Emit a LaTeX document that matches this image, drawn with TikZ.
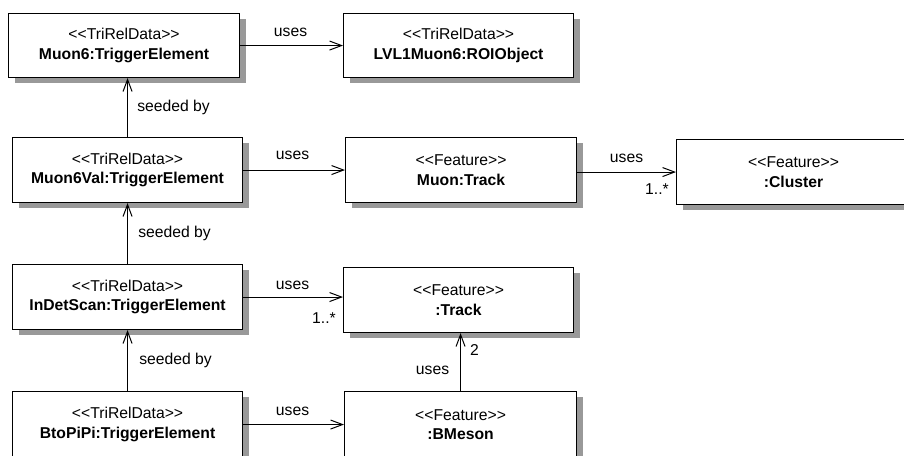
\documentclass[tikz,border=0pt]{standalone}
\usepackage{fontspec}
\setmainfont{Liberation Sans}
\usetikzlibrary{arrows.meta,shadows}
\newcommand\st[1]{<\kern0pt<#1>\kern0pt>}
\begin{document}
\begin{tikzpicture}[x=1pt,y=-1pt,
  umlbox/.style={draw=black, line width=1.1pt, fill=white, inner sep=0pt,
    align=center, anchor=north west, font=\fontsize{15.7}{19.5}\selectfont,
    drop shadow={shadow xshift=6pt, shadow yshift=-5pt, fill=black!40, opacity=1}},
  assoc/.style={line width=1pt, -{Straight Barb[length=12pt,width=9pt,line width=1pt]}},
  lbl/.style={font=\fontsize{15.7}{19.5}\selectfont, inner sep=0pt}]
\useasboundingbox (0,0) rectangle (904,455);
\clip (0,0) rectangle (904,455);
\node[umlbox, minimum width=231pt, minimum height=64pt] (A) at (8,13) {\st{TriRelData}\\\textbf{Muon6:TriggerElement}};
\node[umlbox, minimum width=230pt, minimum height=64pt] (B) at (343,13) {\st{TriRelData}\\\textbf{LVL1Muon6:ROIObject}};
\node[umlbox, minimum width=230pt, minimum height=65pt] (C) at (12,137) {\st{TriRelData}\\\textbf{Muon6Val:TriggerElement}};
\node[umlbox, minimum width=231pt, minimum height=65pt] (D) at (345,137) {\st{Feature}\\\textbf{Muon:Track}};
\node[umlbox, minimum width=234pt, minimum height=65pt] (E) at (676,139) {\st{Feature}\\\textbf{:Cluster}};
\node[umlbox, minimum width=230pt, minimum height=65pt] (F) at (12,264) {\st{TriRelData}\\\textbf{InDetScan:TriggerElement}};
\node[umlbox, minimum width=230pt, minimum height=65pt] (G) at (343,267) {\st{Feature}\\\textbf{:Track}};
\node[umlbox, minimum width=230pt, minimum height=66pt] (H) at (12,391) {\st{TriRelData}\\\textbf{BtoPiPi:TriggerElement}};
\node[umlbox, minimum width=232pt, minimum height=66pt] (I) at (344,391) {\st{Feature}\\\textbf{:BMeson}};
% connectors
\draw[assoc] (A.east) -- (B.west) node[lbl, midway, xshift=-1pt, yshift=13.5pt] {uses};
\draw[assoc] (C.east) -- (D.west) node[lbl, midway, xshift=-1.5pt, yshift=14.5pt] {uses};
\draw[assoc] (E.west -| D.east) -- (E.west) node[lbl, midway, yshift=13.5pt] {uses}
  node[lbl, pos=1, xshift=-19pt, yshift=-17pt] {1..*};
\draw[assoc] (F.east) -- (F.east -| G.west) node[lbl, midway, xshift=-0.5pt, yshift=12pt] {uses}
  node[lbl, pos=1, xshift=-19pt, yshift=-21pt] {1..*};
\draw[assoc] (H.east) -- (H.east -| I.west) node[lbl, midway, xshift=-1pt, yshift=13.5pt] {uses};
\draw[assoc] (C.north) -- (C.north |- A.south) node[lbl, midway, xshift=46pt] {seeded by};
\draw[assoc] (F.north) -- (F.north |- C.south) node[lbl, midway, xshift=47pt] {seeded by};
\draw[assoc] (H.north) -- (H.north |- F.south) node[lbl, midway, xshift=48pt] {seeded by};
\draw[assoc] (I.north) -- (I.north |- G.south) node[lbl, midway, xshift=-28pt, yshift=-8.5pt] {uses}
  node[lbl, pos=1, xshift=14pt, yshift=-17pt] {2};
\end{tikzpicture}
\end{document}
